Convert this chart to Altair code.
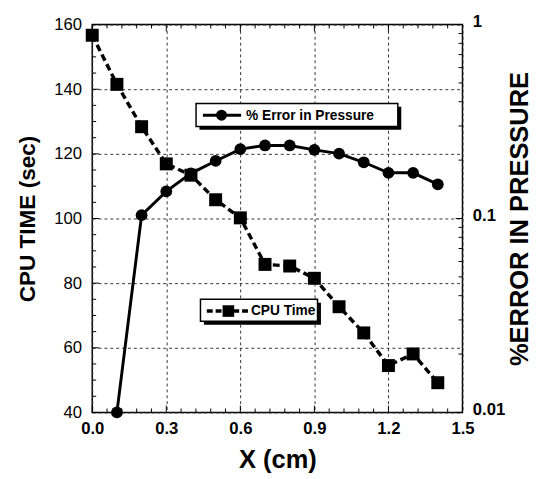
import altair as alt
import pandas as pd

# ---------------- data ----------------
cpu_x = [0.0, 0.1, 0.2, 0.3, 0.4, 0.5, 0.6, 0.7, 0.8, 0.9, 1.0, 1.1, 1.2, 1.3, 1.4]
cpu_time = [156.7, 141.5, 128.4, 116.9, 113.4, 105.8, 100.2, 85.8, 85.3, 81.5, 72.7, 64.6, 54.5, 58.1, 49.2]

err_x = [0.1, 0.2, 0.3, 0.4, 0.5, 0.6, 0.7, 0.8, 0.9, 1.0, 1.1, 1.2, 1.3, 1.4]
err_pct = [0.010, 0.104, 0.138, 0.171, 0.198, 0.228, 0.238, 0.238, 0.226, 0.216, 0.195, 0.172, 0.172, 0.150]

x_major = [0.0, 0.3, 0.6, 0.9, 1.2, 1.5]
x_minor = [0.06, 0.12, 0.18, 0.24, 0.36, 0.42, 0.48, 0.54, 0.66, 0.72, 0.78, 0.84,
           0.96, 1.02, 1.08, 1.14, 1.26, 1.32, 1.38, 1.44]
cpu_major = [40, 60, 80, 100, 120, 140, 160]
cpu_minor = [45, 50, 55, 65, 70, 75, 85, 90, 95, 105, 110, 115, 125, 130, 135, 145, 150, 155]
err_major = [0.01, 0.1, 1]
err_minor = [0.02, 0.03, 0.04, 0.05, 0.06, 0.07, 0.08, 0.09,
             0.2, 0.3, 0.4, 0.5, 0.6, 0.7, 0.8, 0.9]

legend_err = "% Error in Pressure"
legend_cpu = "CPU Time"

W, H = 378, 396
FONT = "Liberation Sans"

cpu_df = pd.DataFrame({"x": cpu_x, "cpu": cpu_time})
err_df = pd.DataFrame({"x": err_x, "err": err_pct})
one = pd.DataFrame({"a": [0]})

xscale = alt.Scale(domain=[0, 1.5], nice=False, zero=False)
cpu_scale = alt.Scale(domain=[40, 160], nice=False, zero=False)
err_scale = alt.Scale(type="log", domain=[0.01, 1], nice=False)

x_axis = alt.Axis(values=x_major, format=".1f", title="X (cm)", grid=True,
                  gridDash=[3, 3], gridColor="#333333", gridWidth=1,
                  ticks=False, domain=False, labelFont=FONT, labelFontSize=17,
                  labelFontWeight="bold", labelColor="black", labelPadding=9, labelFlush=False,
                  titleFont=FONT, titleFontSize=26, titleFontWeight="bold",
                  titleColor="black", titlePadding=10)

cpu_axis = alt.Axis(values=cpu_major, title="CPU TIME (sec)", orient="left", grid=True,
                    gridDash=[3, 3], gridColor="#333333", gridWidth=1,
                    ticks=False, domain=False, labelFont=FONT, labelFontSize=17,
                    labelColor="black", labelPadding=11, labelFlush=False,
                    titleFont=FONT, titleFontSize=23, titleFontWeight="bold",
                    titleColor="black", titlePadding=15)

err_axis = alt.Axis(values=err_major, format="~g", title="%ERROR IN PRESSURE", orient="right",
                    grid=False, ticks=False, domain=False, labelFont=FONT, labelFontSize=17,
                    labelFontWeight="bold", labelColor="black", labelPadding=10, labelOffset=-3,
                    labelFlush=False,
                    titleFont=FONT, titleFontSize=26, titleFontWeight="bold",
                    titleColor="black", titlePadding=2, titleAngle=270, titleBaseline="top")

X = alt.X("x:Q", scale=xscale, axis=x_axis)

# ---------------- series ----------------
cpu_line = alt.Chart(cpu_df).mark_line(color="black", strokeWidth=3.5, strokeDash=[7, 4]).encode(
    x=X, y=alt.Y("cpu:Q", scale=cpu_scale, axis=cpu_axis),
)
cpu_pts = alt.Chart(cpu_df).mark_square(color="black", size=175, opacity=1).encode(
    x=X, y=alt.Y("cpu:Q", scale=cpu_scale, axis=None),
)
err_line = alt.Chart(err_df).mark_line(color="black", strokeWidth=3).encode(
    x=X, y=alt.Y("err:Q", scale=err_scale, axis=err_axis),
)
err_pts = alt.Chart(err_df).mark_circle(color="black", size=144, opacity=1).encode(
    x=X, y=alt.Y("err:Q", scale=err_scale, axis=None),
)

# ---------------- inward ticks ----------------
def xticks(vals, length, top):
    d = pd.DataFrame({"x": vals})
    y0 = 0 if top else H
    y1 = length if top else H - length
    return alt.Chart(d).mark_rule(color="black", strokeWidth=1).encode(
        x=X, y=alt.value(y0), y2=alt.value(y1))


def yticks(vals, length, scale, right):
    d = pd.DataFrame({"v": vals})
    x0 = W if right else 0
    x1 = W - length if right else length
    return alt.Chart(d).mark_rule(color="black", strokeWidth=1).encode(
        y=alt.Y("v:Q", scale=scale, axis=None), x=alt.value(x0), x2=alt.value(x1))


tick_layers = [
    xticks(x_major, 7, False), xticks(x_minor, 4, False),
    xticks(x_major, 7, True), xticks(x_minor, 4, True),
    yticks(cpu_major, 7, cpu_scale, False), yticks(cpu_minor, 4, cpu_scale, False),
    yticks(err_major, 7, err_scale, True), yticks(err_minor, 4, err_scale, True),
]

# ---------------- legends ----------------
def box(x0, x1, y0, y1):
    shadow = alt.Chart(one).mark_rect(color="black").encode(
        x=alt.value(x0 + 3.5), x2=alt.value(x1 + 3.5), y=alt.value(y0 + 3.5), y2=alt.value(y1 + 3.5))
    face = alt.Chart(one).mark_rect(fill="white", stroke="black", strokeWidth=1.5).encode(
        x=alt.value(x0), x2=alt.value(x1), y=alt.value(y0), y2=alt.value(y1))
    return [shadow, face]


leg1_y = 92.5
leg1 = box(106, 312, 80.5, 104) + [
    alt.Chart(one).mark_rule(color="black", strokeWidth=3).encode(
        x=alt.value(113), x2=alt.value(152), y=alt.value(leg1_y)),
    alt.Chart(one).mark_circle(color="black", size=125, opacity=1).encode(
        x=alt.value(132), y=alt.value(leg1_y)),
    alt.Chart(one).mark_text(text=legend_err, align="left", baseline="middle", font=FONT,
                             fontSize=14, fontWeight="bold", color="black").encode(
        x=alt.value(157), y=alt.value(leg1_y + 0.5)),
]

leg2_y = 292.5
leg2 = box(110.5, 230, 280.5, 303) + [
    alt.Chart(one).mark_rule(color="black", strokeWidth=3.5, strokeDash=[6, 3]).encode(
        x=alt.value(117), x2=alt.value(161), y=alt.value(leg2_y)),
    alt.Chart(one).mark_square(color="black", size=140, opacity=1).encode(
        x=alt.value(139), y=alt.value(leg2_y)),
    alt.Chart(one).mark_text(text=legend_cpu, align="left", baseline="middle", font=FONT,
                             fontSize=14, fontWeight="bold", color="black").encode(
        x=alt.value(162), y=alt.value(leg2_y + 0.5)),
]

chart = alt.layer(
    cpu_line, cpu_pts, err_line, err_pts, *tick_layers, *leg1, *leg2
).resolve_scale(y="independent").properties(
    width=W, height=H, background="white",
    padding={"left": 8, "top": 0, "right": 0, "bottom": 0}
).configure_view(stroke="black", strokeWidth=1.5)

chart.save("out.html", embed_options={"renderer": "svg", "actions": False})
